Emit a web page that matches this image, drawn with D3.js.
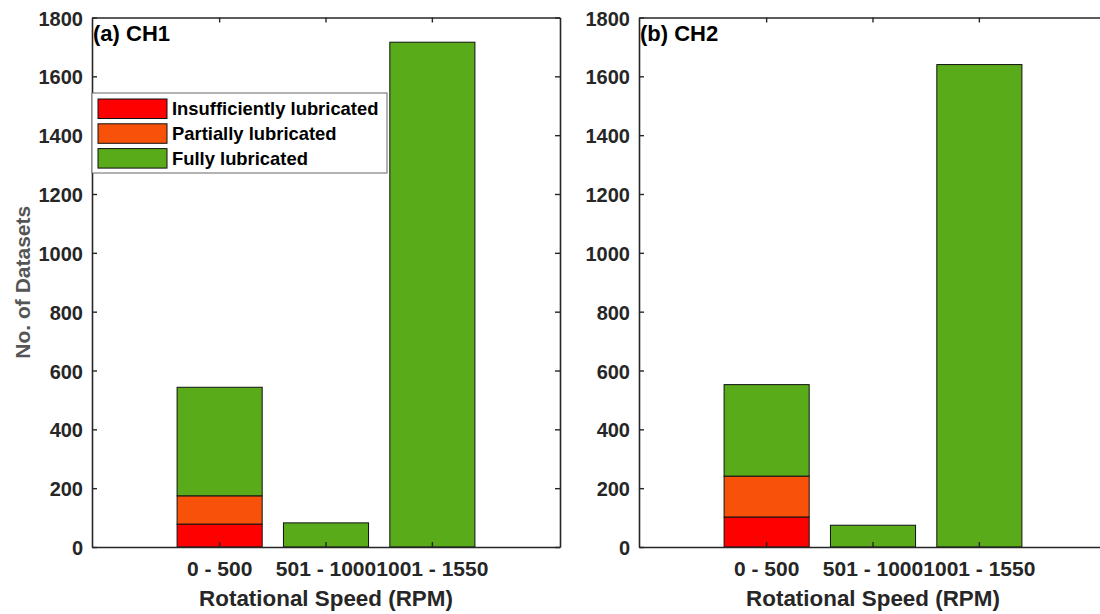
<!DOCTYPE html>
<html>
<head>
<meta charset="utf-8">
<script src="https://cdn.jsdelivr.net/npm/d3@7"></script>
<style>
  body { margin: 0; background: #fff; }
  svg text { font-family: "Liberation Sans", Arial, Helvetica, sans-serif; font-weight: bold; }
</style>
</head>
<body>
<div id="chart"></div>
<script>
// categories + series
var speedBins = ["0 - 500", "501 - 1000", "1001 - 1550"];
var seriesNames = ["Insufficiently lubricated", "Partially lubricated", "Fully lubricated"];
var seriesColors = ["#ff0000", "#f8520a", "#59ab19"];
var yTicks = [0, 200, 400, 600, 800, 1000, 1200, 1400, 1600, 1800];

var ch1Insufficient = [78, 0, 0];
var ch1Partial = [96, 0, 0];
var ch1Full = [369, 82, 1716];

var ch2Insufficient = [102, 0, 0];
var ch2Partial = [139, 0, 0];
var ch2Full = [311, 74, 1640];

var panels = [
  {title: "(a) CH1", left: 92, series: [ch1Insufficient, ch1Partial, ch1Full], legend: true, ylabel: true},
  {title: "(b) CH2", left: 639, series: [ch2Insufficient, ch2Partial, ch2Full], legend: false, ylabel: false}
];

var W = 1100, H = 614;
var plotTop = 17.5, plotBottom = 547, pw = 468;
var ink = "#262626";

var svg = d3.select("#chart").append("svg")
  .attr("width", W)
  .attr("height", H);

var y = d3.scaleLinear().domain([0, 1800]).range([plotBottom, plotTop]);

panels.forEach(function(p) {
  var g = svg.append("g").attr("transform", "translate(" + p.left + ",0)");

  var x = d3.scaleBand()
    .domain(speedBins)
    .range([0, pw])
    .paddingInner(0.2)
    .paddingOuter(0.8);

  // stack the series
  var rows = speedBins.map(function(b, i) {
    var r = {bin: b};
    seriesNames.forEach(function(s, k) { r[s] = p.series[k][i]; });
    return r;
  });
  var stacked = d3.stack().keys(seriesNames)(rows);

  g.append("g").selectAll("g")
    .data(stacked)
    .enter().append("g")
      .attr("fill", function(d, k) { return seriesColors[k]; })
    .selectAll("rect")
    .data(function(d) { return d.filter(function(v) { return v[1] - v[0] > 0; }); })
    .enter().append("rect")
      .attr("x", function(d) { return x(d.data.bin); })
      .attr("y", function(d) { return y(d[1]); })
      .attr("width", x.bandwidth())
      .attr("height", function(d) { return y(d[0]) - y(d[1]); })
      .attr("stroke", "#111")
      .attr("stroke-width", 1);

  // axes (inward ticks, MATLAB style box)
  var xb = g.append("g")
    .attr("transform", "translate(0," + plotBottom + ")")
    .call(d3.axisBottom(x).tickSize(-5).tickSizeOuter(0).tickPadding(14));
  xb.selectAll("text").attr("font-size", 21).attr("fill", ink);

  g.append("g")
    .attr("transform", "translate(0," + plotTop + ")")
    .call(d3.axisTop(x).tickSize(-5).tickSizeOuter(0).tickFormat(""));

  var yl = g.append("g")
    .call(d3.axisLeft(y).tickValues(yTicks).tickFormat(d3.format("d"))
      .tickSize(-5).tickSizeOuter(0).tickPadding(9));
  yl.selectAll("text").attr("font-size", 20).attr("fill", ink).attr("dy", "0.38em");

  g.append("g")
    .attr("transform", "translate(" + pw + ",0)")
    .call(d3.axisRight(y).tickValues(yTicks).tickSize(-5).tickSizeOuter(0).tickFormat(""));

  g.selectAll(".domain").attr("stroke", ink).attr("stroke-width", 1.6);
  g.selectAll(".tick line").attr("stroke", ink).attr("stroke-width", 1.4);

  g.append("text")
    .attr("x", 1)
    .attr("y", 41)
    .attr("font-size", 22)
    .attr("fill", "#000")
    .text(p.title);

  g.append("text")
    .attr("x", pw / 2)
    .attr("y", 606)
    .attr("text-anchor", "middle")
    .attr("font-size", 22.4)
    .attr("fill", ink)
    .text("Rotational Speed (RPM)");

  if (p.ylabel) {
    svg.append("text")
      .attr("transform", "translate(30," + ((plotTop + plotBottom) / 2) + ") rotate(-90)")
      .attr("text-anchor", "middle")
      .attr("font-size", 21)
      .attr("fill", "#555")
      .text("No. of Datasets");
  }

  if (p.legend) {
    var lg = g.append("g").attr("transform", "translate(0,93)");
    lg.append("rect")
      .attr("x", 0).attr("y", 0)
      .attr("width", 295).attr("height", 80)
      .attr("fill", "#fff")
      .attr("stroke", "#666")
      .attr("stroke-width", 1);
    seriesNames.forEach(function(s, k) {
      var row = lg.append("g").attr("transform", "translate(6," + (6 + k * 24.8) + ")");
      row.append("rect")
        .attr("width", 69).attr("height", 19.5)
        .attr("fill", seriesColors[k])
        .attr("stroke", "#111");
      row.append("text")
        .attr("x", 74)
        .attr("y", 16)
        .attr("font-size", 18.4)
        .attr("fill", "#000")
        .text(s);
    });
  }
});
</script>
</body>
</html>
